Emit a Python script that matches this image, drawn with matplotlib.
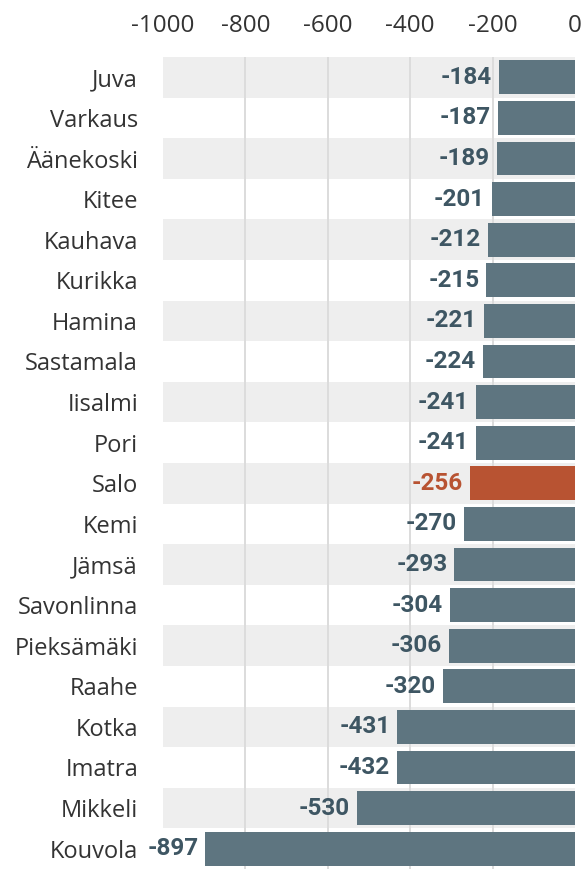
import matplotlib.pyplot as plt

towns = ['Juva', 'Varkaus', 'Äänekoski', 'Kitee', 'Kauhava', 'Kurikka', 'Hamina',
         'Sastamala', 'Iisalmi', 'Pori', 'Salo', 'Kemi', 'Jämsä', 'Savonlinna',
         'Pieksämäki', 'Raahe', 'Kotka', 'Imatra', 'Mikkeli', 'Kouvola']
values = [-184, -187, -189, -201, -212, -215, -221, -224, -241, -241, -256, -270,
          -293, -304, -306, -320, -431, -432, -530, -897]
highlight = 'Salo'
ticks = [-1000, -800, -600, -400, -200, 0]

bar_col = '#5e7580'
label_col = '#3e5663'
hi_col = '#b85332'

fig = plt.figure(figsize=(5.87, 8.69), dpi=100)
ax = fig.add_axes([163 / 587, 0.0, 412 / 587, 1 - 57 / 869])

# alternating row bands
for i in range(len(towns)):
    if i % 2 == 0:
        ax.axhspan(i - 0.5, i + 0.5, color='#eeeeee', zorder=0, lw=0)

for t in ticks[1:-1]:
    ax.axvline(t, color='#dcdcdc', lw=1.4, zorder=1)

cols = [hi_col if t == highlight else bar_col for t in towns]
ax.barh(range(len(towns)), values, height=0.83, color=cols, zorder=2)

for i, v in enumerate(values):
    c = hi_col if towns[i] == highlight else label_col
    ax.annotate(str(v), (v, i), xytext=(-5, 0), textcoords='offset points',
                ha='right', va='center', fontsize=17.5, fontweight='bold',
                family='Roboto', color=c, clip_on=False)

ax.set_xlim(-1000, 0)
ax.set_ylim(len(towns) - 0.5, -0.5)
ax.set_yticks(range(len(towns)))
ax.set_yticklabels(towns, family='Open Sans', fontsize=17, color='#333333')
ax.xaxis.tick_top()
ax.set_xticks(ticks)
ax.set_xticklabels([str(t) for t in ticks], family='Open Sans', fontsize=17.5, color='#333333')
ax.tick_params(axis='both', length=0)
ax.tick_params(axis='y', pad=18)
ax.tick_params(axis='x', pad=14)
for s in ax.spines.values():
    s.set_visible(False)

fig.savefig('out.png', dpi=100)
